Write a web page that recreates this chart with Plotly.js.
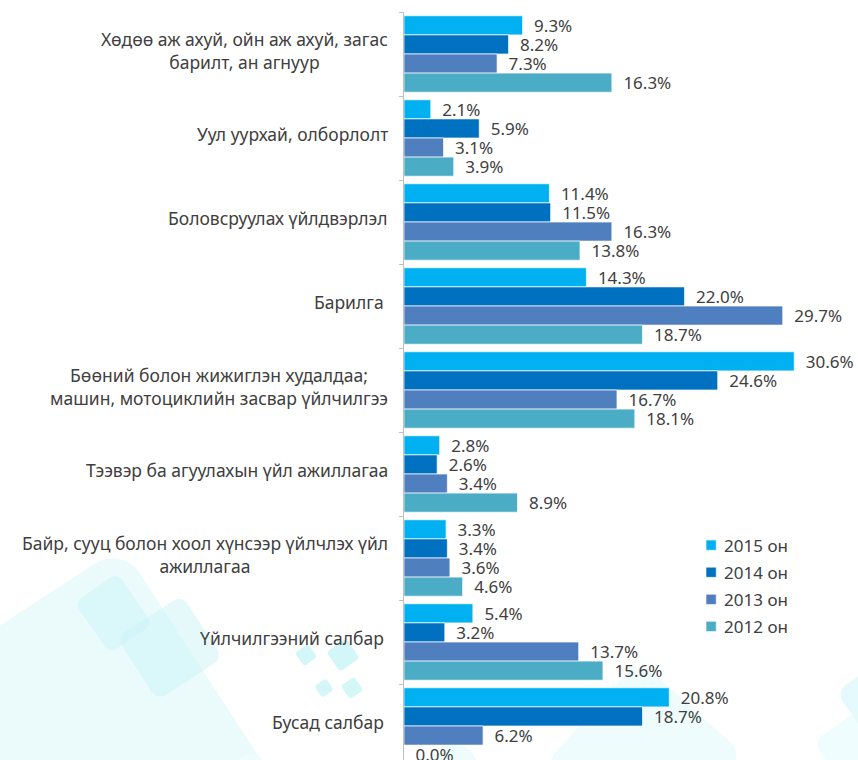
<!DOCTYPE html>
<html>
<head>
<meta charset="utf-8">
<script src="https://cdn.plot.ly/plotly-3.0.1.min.js"></script>
<style>
html,body{margin:0;padding:0;overflow:hidden;background:#fff;width:858px;height:760px;}
#bg{position:absolute;left:0;top:0;}
#chart{position:absolute;left:0;top:0;width:858px;height:780px;}
.legend .legendpoints{transform:translate(10px,0px) scale(0.85);}
</style>
</head>
<body>
<svg id="bg" width="858" height="760" xmlns="http://www.w3.org/2000/svg">
  <rect x="-320" y="0" width="320" height="300" rx="32" fill="#EBFBFC" transform="translate(122,546) rotate(-33)" />
  <rect x="-150" y="0" width="150" height="150" rx="18" fill="#EEFCFD" transform="translate(462,738) rotate(-33)" />
  <rect x="-120" y="0" width="120" height="120" rx="16" fill="#EEFCFD" transform="translate(255,748) rotate(-33)" />
  <rect x="0" y="0" width="140" height="140" rx="16" fill="#EEFCFD" transform="translate(545,764) rotate(-48)" />
  <rect x="0" y="0" width="90" height="90" rx="12" fill="#F0FDFE" transform="translate(813,742) rotate(-35)" />
  <rect x="0" y="0" width="90" height="90" rx="12" fill="#E4FAFC" transform="translate(836,692) rotate(-35)" />
  <g fill="#C6F2F6" fill-opacity="0.45">
    <rect x="-52" y="0" width="52" height="62" rx="8" transform="translate(117,573) rotate(-35)" />
    <rect x="-78" y="0" width="78" height="75" rx="10" transform="translate(182,595) rotate(-33)" />
  </g>
  <g fill="#D3F6F9">
    <rect x="-8" y="-8" width="16" height="16" rx="3" transform="translate(306,655) rotate(-35)" />
    <rect x="-12" y="-12" width="24" height="24" rx="4" transform="translate(343,655) rotate(-35)" />
    <rect x="-7" y="-7" width="14" height="14" rx="3" transform="translate(324,688) rotate(-35)" />
    <rect x="-8" y="-8" width="16" height="16" rx="3" transform="translate(352,688) rotate(-35)" />
  </g>
</svg>
<div id="chart"></div>
<script>
const categories = [
  "Хөдөө аж ахуй, ойн аж ахуй, загас<br>барилт, ан агнуур",
  "Уул уурхай, олборлолт",
  "Боловсруулах үйлдвэрлэл",
  "Барилга\u00A0",
  "Бөөний болон жижиглэн худалдаа;<br>машин, мотоциклийн засвар үйлчилгээ",
  "Тээвэр ба агуулахын үйл ажиллагаа",
  "Байр, сууц болон хоол хүнсээр үйлчлэх үйл<br>ажиллагаа",
  "Үйлчилгээний салбар\u00A0",
  "Бусад салбар\u00A0"
];
const seriesNames = ["2015 он", "2014 он", "2013 он", "2012 он"];
const v2015 = [9.3, 2.1, 11.4, 14.3, 30.6, 2.8, 3.3, 5.4, 20.8];
const v2014 = [8.2, 5.9, 11.5, 22.0, 24.6, 2.6, 3.4, 3.2, 18.7];
const v2013 = [7.3, 3.1, 16.3, 29.7, 16.7, 3.4, 3.6, 13.7, 6.2];
const v2012 = [16.3, 3.9, 13.8, 18.7, 18.1, 8.9, 4.6, 15.6, 0.0];

const colors = ["#00B0F0", "#0070C0", "#4F7FBE", "#4BACC6"];
const values = [v2015, v2014, v2013, v2012];
const idx = categories.map((_, i) => i);
const fam = "Noto Sans, Open Sans, sans-serif";
const valFont = {family: fam, size: 17, color: "#404040"};
const catFont = {family: fam, size: 17.5, color: "#404040"};

const traces = values.map((vals, k) => ({
  type: "bar",
  orientation: "h",
  name: seriesNames[k],
  legendgroup: "g" + k,
  x: vals,
  y: idx,
  marker: {color: colors[k], line: {color: "rgba(255,255,255,0.7)", width: 1}},
  text: vals.map(v => "\u2002" + v.toFixed(1) + "%"),
  textposition: "outside",
  constraintext: "none",
  textfont: valFont,
  cliponaxis: false,
  hoverinfo: "skip"
}));

const annotations = categories.map((c, i) => ({
  xref: "paper", yref: "y",
  x: 0, y: i,
  xanchor: "right", yanchor: "middle",
  xshift: -14, yshift: 4,
  text: c,
  align: "center",
  showarrow: false,
  font: catFont
}));

const layout = {
  width: 858, height: 780,
  margin: {l: 404, r: 0, t: 12, b: 12, pad: 0},
  paper_bgcolor: "rgba(0,0,0,0)",
  plot_bgcolor: "rgba(0,0,0,0)",
  barmode: "group",
  bargap: 0.09,
  bargroupgap: 0,
  showlegend: true,
  legend: {
    x: 0.617, y: 0.318, xanchor: "left", yanchor: "top",
    bgcolor: "rgba(0,0,0,0)",
    font: {family: fam, size: 17, color: "#404040"},
    traceorder: "grouped",
    tracegroupgap: 2
  },
  xaxis: {range: [0, 35.6], visible: false, fixedrange: true},
  yaxis: {
    type: "linear",
    range: [8.5, -0.5],
    showticklabels: false,
    tickmode: "array",
    tickvals: [-0.5, 0.5, 1.5, 2.5, 3.5, 4.5, 5.5, 6.5, 7.5, 8.5],
    ticks: "outside", ticklen: 4, tickcolor: "#BFBFBF",
    showline: true, linecolor: "#BFBFBF", linewidth: 1,
    showgrid: false, zeroline: false
  },
  annotations: annotations
};

Plotly.newPlot("chart", traces, layout, {displayModeBar: false, staticPlot: true});
</script>
</body>
</html>
